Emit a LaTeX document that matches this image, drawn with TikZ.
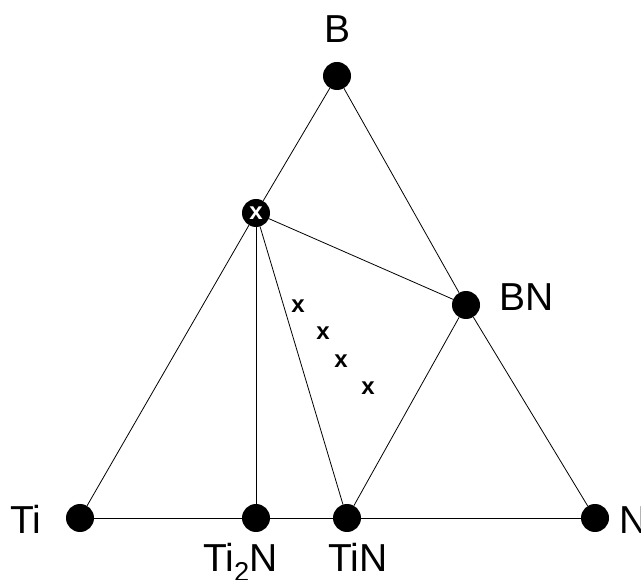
\documentclass[tikz,border=0pt]{standalone}
\usepackage{fontspec}
\setmainfont{Liberation Sans}
\begin{document}
\begin{tikzpicture}[x=1pt,y=-1pt,
  dot/.style={circle,fill=black,inner sep=0pt,minimum size=28pt},
  lbl/.style={font=\fontsize{39}{44}\selectfont,inner sep=0pt},
  xmark/.style={font=\fontsize{24}{24}\selectfont\bfseries,inner sep=0pt},
  edge/.style={draw=black,line width=0.8pt}]
\useasboundingbox (0,0) rectangle (641,580);
\node[dot] (B) at (337,76) {};
\node[dot] (Ti) at (80,518) {};
\node[dot] (N) at (595,518) {};
\node[dot] (Ti2N) at (256,518) {};
\node[dot] (TiN) at (347,518) {};
\node[dot] (BN) at (466,305) {};
\node[dot] (TiB2) at (256,213) {};
\draw[edge] (Ti) -- (TiB2);
\draw[edge] (TiB2) -- (B);
\draw[edge] (B) -- (BN);
\draw[edge] (BN) -- (N);
\draw[edge] (Ti) -- (Ti2N);
\draw[edge] (Ti2N) -- (TiN);
\draw[edge] (TiN) -- (N);
\draw[edge] (TiB2) -- (Ti2N);
\draw[edge] (TiB2) -- (TiN);
\draw[edge] (TiB2) -- (BN);
\draw[edge] (BN) -- (TiN);
\node[xmark,text=white] (xw) at (TiB2) {x};
\node[xmark] (x1) at (298,306) {x};
\node[xmark] (x2) at (323,333) {x};
\node[xmark] (x3) at (341,361) {x};
\node[xmark] (x4) at (368,388) {x};
\node[lbl,anchor=base] (lB) at (338,43) {B};
\node[lbl,anchor=base west] (lTi) at (10,533) {Ti};
\node[lbl,anchor=base west] (lN) at (619,533) {N};
\node[lbl,anchor=base west] (lBN) at (499,311) {BN};
\node[lbl,anchor=base west] (lTi2N) at (203,571) {Ti\textsubscript{2}N};
\node[lbl,anchor=base west] (lTiN) at (328,571) {TiN};
\end{tikzpicture}
\end{document}
